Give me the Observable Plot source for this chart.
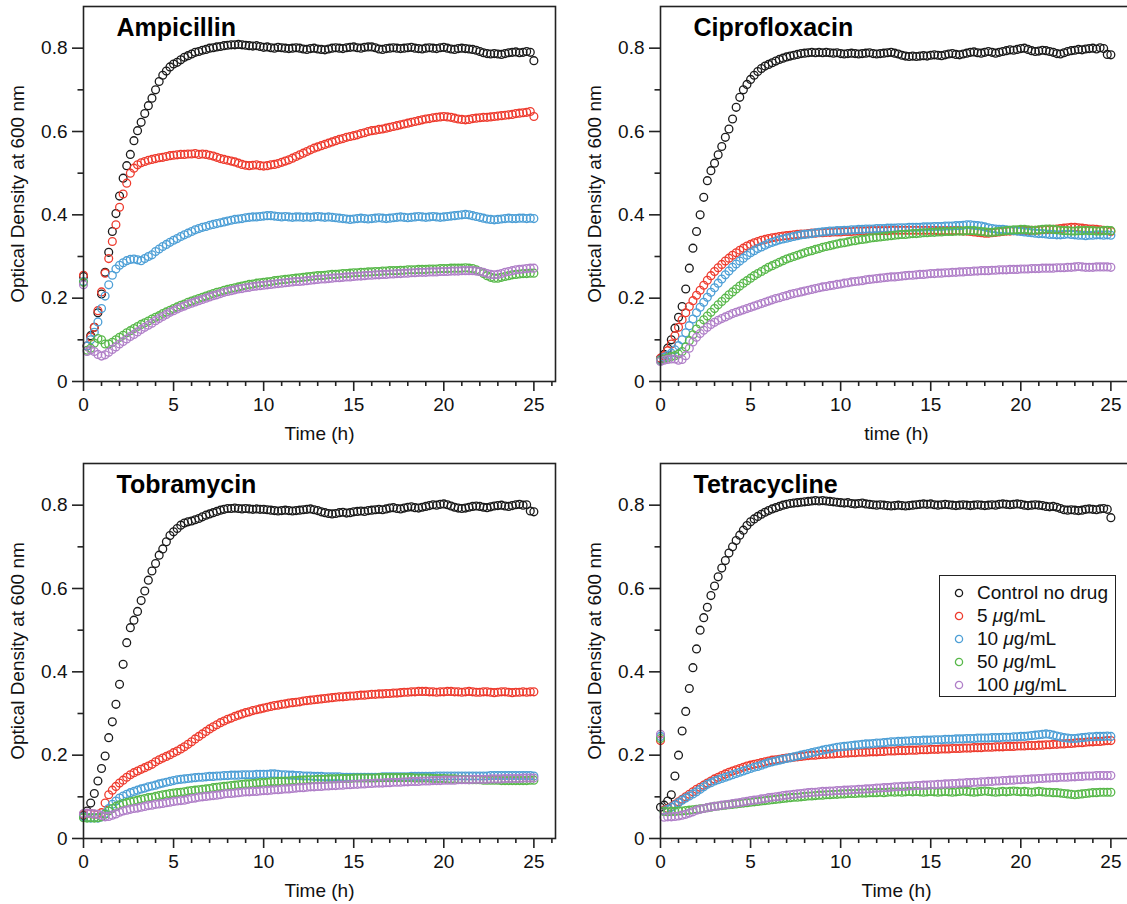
<!DOCTYPE html>
<html>
<head>
<meta charset="utf-8">
<script src="https://cdn.jsdelivr.net/npm/d3@7"></script>
<script src="https://cdn.jsdelivr.net/npm/@observablehq/plot@0.6"></script>
<style>
  html, body { margin: 0; padding: 0; background: #fff; }
  #root { position: relative; width: 1127px; height: 904px; overflow: hidden; background: #fff;
          font-family: "Liberation Sans", Arial, Helvetica, sans-serif; }
  .panel { position: absolute; width: 560px; height: 451px; }
  .panel svg { max-width: none !important; width: 560px; height: 451px; }
  #legend { position: absolute; left: 939px; top: 575px; width: 177px; height: 122px; box-sizing: border-box;
            border: 1.5px solid #222; background: #fff; font-size: 19px; color: #111; }
  #legend .row { position: absolute; left: 0; height: 22px; line-height: 22px; white-space: nowrap; }
  #legend svg { position: absolute; left: 13px; top: 5px; }
  #legend span { position: absolute; left: 37px; top: 0; }
</style>
</head>
<body>
<div id="root"></div>
<script>
const time = [
0,0.2,0.4,0.6,0.8,1,1.2,1.4,1.6,1.8,
2,2.2,2.4,2.6,2.8,3,3.2,3.4,3.6,3.8,
4,4.2,4.4,4.6,4.8,5,5.2,5.4,5.6,5.8,
6,6.2,6.4,6.6,6.8,7,7.2,7.4,7.6,7.8,
8,8.2,8.4,8.6,8.8,9,9.2,9.4,9.6,9.8,
10,10.2,10.4,10.6,10.8,11,11.2,11.4,11.6,11.8,
12,12.2,12.4,12.6,12.8,13,13.2,13.4,13.6,13.8,
14,14.2,14.4,14.6,14.8,15,15.2,15.4,15.6,15.8,
16,16.2,16.4,16.6,16.8,17,17.2,17.4,17.6,17.8,
18,18.2,18.4,18.6,18.8,19,19.2,19.4,19.6,19.8,
20,20.2,20.4,20.6,20.8,21,21.2,21.4,21.6,21.8,
22,22.2,22.4,22.6,22.8,23,23.2,23.4,23.6,23.8,
24,24.2,24.4,24.6,24.8,25];

const seriesNames = ["Control no drug", "5 μg/mL", "10 μg/mL", "50 μg/mL", "100 μg/mL"];
const seriesColors = ["#1a1a1a", "#ee3b2e", "#4d9fd6", "#58b84a", "#b07fc8"];

const xMajor = [0, 5, 10, 15, 20, 25];
const xMinor = [1,2,3,4,6,7,8,9,11,12,13,14,16,17,18,19,21,22,23,24,26];
const yMajor = [0, 0.2, 0.4, 0.6, 0.8];
const yMajorLabels = ["0", "0.2", "0.4", "0.6", "0.8"];
const yMinor = [0.1, 0.3, 0.5, 0.7];

// ---------- Ampicillin ----------
const ampCtrl = [
0.252,0.085,0.110,0.130,0.165,0.210,0.262,0.310,0.360,0.403,
0.445,0.488,0.518,0.545,0.578,0.602,0.622,0.643,0.662,0.680,
0.700,0.720,0.735,0.745,0.755,0.762,0.766,0.772,0.778,0.782,
0.786,0.790,0.792,0.795,0.797,0.800,0.801,0.803,0.804,0.806,
0.807,0.808,0.808,0.809,0.808,0.807,0.806,0.805,0.806,0.804,
0.802,0.803,0.801,0.800,0.802,0.801,0.800,0.799,0.800,0.801,
0.800,0.798,0.797,0.799,0.800,0.798,0.797,0.796,0.798,0.800,
0.801,0.800,0.799,0.801,0.802,0.803,0.801,0.800,0.802,0.803,
0.803,0.801,0.798,0.797,0.799,0.800,0.801,0.800,0.799,0.800,
0.801,0.802,0.800,0.799,0.798,0.800,0.801,0.800,0.799,0.801,
0.802,0.800,0.798,0.797,0.799,0.800,0.799,0.798,0.797,0.795,
0.792,0.789,0.787,0.786,0.787,0.786,0.785,0.787,0.789,0.790,
0.791,0.789,0.790,0.792,0.790,0.770];
const amp5 = [
0.255,0.085,0.107,0.130,0.170,0.215,0.260,0.295,0.336,0.376,
0.418,0.450,0.476,0.500,0.512,0.520,0.525,0.528,0.531,0.533,
0.535,0.537,0.538,0.540,0.542,0.543,0.544,0.545,0.545,0.546,
0.546,0.547,0.545,0.546,0.545,0.543,0.541,0.538,0.535,0.533,
0.531,0.529,0.527,0.524,0.521,0.519,0.518,0.519,0.520,0.518,
0.517,0.518,0.520,0.521,0.523,0.526,0.529,0.532,0.536,0.540,
0.544,0.548,0.552,0.556,0.560,0.563,0.566,0.569,0.572,0.575,
0.578,0.581,0.583,0.586,0.588,0.590,0.592,0.595,0.597,0.600,
0.602,0.603,0.605,0.606,0.608,0.610,0.612,0.614,0.616,0.618,
0.620,0.622,0.624,0.626,0.628,0.630,0.631,0.633,0.634,0.635,
0.636,0.635,0.634,0.632,0.630,0.629,0.628,0.629,0.631,0.632,
0.633,0.634,0.634,0.635,0.636,0.637,0.638,0.639,0.640,0.641,
0.643,0.644,0.645,0.646,0.648,0.636];
const amp10 = [
0.240,0.085,0.100,0.118,0.143,0.175,0.205,0.232,0.255,0.270,
0.279,0.285,0.290,0.293,0.294,0.292,0.290,0.295,0.300,0.304,
0.312,0.318,0.324,0.329,0.334,0.339,0.343,0.348,0.352,0.356,
0.360,0.364,0.367,0.370,0.372,0.375,0.377,0.379,0.381,0.383,
0.385,0.387,0.389,0.390,0.391,0.393,0.394,0.395,0.395,0.396,
0.397,0.398,0.398,0.397,0.396,0.395,0.396,0.395,0.394,0.395,
0.395,0.394,0.395,0.394,0.395,0.396,0.395,0.394,0.395,0.394,
0.393,0.392,0.391,0.390,0.389,0.390,0.391,0.392,0.391,0.390,
0.391,0.392,0.393,0.392,0.391,0.392,0.393,0.394,0.395,0.394,
0.393,0.394,0.395,0.396,0.395,0.394,0.395,0.396,0.395,0.394,
0.395,0.396,0.397,0.398,0.399,0.400,0.401,0.400,0.398,0.396,
0.394,0.392,0.390,0.389,0.388,0.389,0.390,0.391,0.392,0.391,
0.391,0.392,0.392,0.391,0.392,0.391];
const amp50 = [
0.238,0.075,0.080,0.092,0.103,0.100,0.090,0.090,0.094,0.100,
0.106,0.111,0.117,0.122,0.127,0.132,0.137,0.141,0.145,0.150,
0.154,0.158,0.163,0.167,0.171,0.175,0.179,0.183,0.186,0.190,
0.193,0.196,0.199,0.202,0.205,0.208,0.211,0.214,0.216,0.219,
0.221,0.223,0.225,0.227,0.229,0.231,0.233,0.234,0.236,0.237,
0.238,0.239,0.240,0.242,0.243,0.244,0.245,0.246,0.247,0.248,
0.249,0.250,0.251,0.252,0.253,0.254,0.254,0.255,0.256,0.257,
0.257,0.258,0.259,0.259,0.260,0.261,0.261,0.262,0.262,0.263,
0.263,0.264,0.264,0.265,0.265,0.266,0.266,0.266,0.267,0.267,
0.268,0.268,0.268,0.269,0.269,0.269,0.270,0.270,0.270,0.271,
0.271,0.271,0.272,0.272,0.272,0.272,0.273,0.272,0.271,0.268,
0.264,0.259,0.254,0.250,0.248,0.248,0.250,0.252,0.254,0.256,
0.257,0.258,0.259,0.259,0.260,0.260];
const amp100 = [
0.232,0.072,0.076,0.072,0.065,0.061,0.064,0.070,0.077,0.083,
0.090,0.096,0.102,0.108,0.113,0.119,0.125,0.130,0.135,0.140,
0.146,0.151,0.156,0.161,0.166,0.170,0.174,0.178,0.181,0.185,
0.188,0.191,0.194,0.197,0.200,0.203,0.206,0.208,0.211,0.214,
0.216,0.218,0.220,0.222,0.223,0.225,0.226,0.228,0.229,0.230,
0.231,0.232,0.233,0.234,0.235,0.236,0.237,0.238,0.239,0.240,
0.240,0.241,0.242,0.243,0.244,0.245,0.246,0.246,0.247,0.248,
0.249,0.249,0.250,0.251,0.251,0.252,0.253,0.253,0.254,0.255,
0.255,0.256,0.256,0.257,0.257,0.258,0.258,0.259,0.259,0.260,
0.260,0.261,0.261,0.262,0.262,0.262,0.263,0.263,0.263,0.264,
0.264,0.264,0.265,0.265,0.265,0.266,0.266,0.266,0.266,0.265,
0.264,0.262,0.259,0.257,0.256,0.257,0.259,0.262,0.264,0.266,
0.268,0.269,0.270,0.271,0.272,0.272];

// ---------- Ciprofloxacin ----------
const cipCtrl = [
0.055,0.065,0.080,0.100,0.128,0.154,0.180,0.222,0.272,0.320,
0.360,0.400,0.442,0.482,0.506,0.524,0.544,0.564,0.586,0.606,
0.630,0.658,0.682,0.700,0.713,0.725,0.735,0.744,0.751,0.757,
0.761,0.765,0.769,0.773,0.776,0.779,0.781,0.783,0.785,0.787,
0.788,0.789,0.790,0.789,0.790,0.789,0.790,0.789,0.788,0.789,
0.787,0.786,0.787,0.788,0.787,0.786,0.787,0.788,0.789,0.787,
0.786,0.787,0.788,0.789,0.790,0.788,0.786,0.783,0.781,0.780,
0.781,0.780,0.781,0.782,0.781,0.783,0.784,0.783,0.782,0.784,
0.786,0.787,0.785,0.784,0.786,0.788,0.790,0.791,0.789,0.788,
0.790,0.792,0.790,0.788,0.790,0.792,0.794,0.796,0.795,0.797,
0.799,0.800,0.797,0.794,0.792,0.793,0.795,0.794,0.792,0.790,
0.787,0.786,0.789,0.792,0.794,0.795,0.797,0.796,0.798,0.799,
0.800,0.798,0.801,0.799,0.785,0.784];
const cip5 = [
0.056,0.062,0.074,0.090,0.110,0.130,0.148,0.165,0.180,0.194,
0.207,0.219,0.231,0.243,0.254,0.264,0.273,0.281,0.289,0.296,
0.303,0.309,0.315,0.320,0.325,0.329,0.333,0.336,0.339,0.341,
0.343,0.345,0.346,0.348,0.349,0.350,0.351,0.352,0.353,0.354,
0.354,0.355,0.356,0.356,0.357,0.357,0.358,0.358,0.359,0.359,
0.359,0.360,0.360,0.360,0.361,0.361,0.361,0.361,0.362,0.362,
0.362,0.362,0.362,0.362,0.363,0.363,0.363,0.363,0.363,0.363,
0.363,0.363,0.363,0.363,0.363,0.363,0.363,0.362,0.362,0.362,
0.362,0.362,0.362,0.362,0.361,0.361,0.360,0.359,0.358,0.357,
0.356,0.356,0.357,0.358,0.359,0.360,0.361,0.361,0.362,0.362,
0.362,0.362,0.362,0.363,0.363,0.363,0.364,0.364,0.365,0.365,
0.366,0.367,0.368,0.369,0.370,0.370,0.369,0.368,0.367,0.366,
0.366,0.365,0.364,0.363,0.362,0.360];
const cip10 = [
0.052,0.058,0.063,0.068,0.076,0.086,0.100,0.117,0.134,0.150,
0.165,0.178,0.190,0.202,0.214,0.225,0.236,0.246,0.256,0.265,
0.274,0.282,0.289,0.296,0.303,0.309,0.314,0.319,0.323,0.327,
0.331,0.334,0.337,0.340,0.342,0.344,0.346,0.348,0.350,0.352,
0.353,0.354,0.355,0.357,0.358,0.359,0.360,0.361,0.361,0.362,
0.362,0.363,0.363,0.364,0.364,0.365,0.365,0.366,0.366,0.366,
0.367,0.367,0.367,0.368,0.368,0.368,0.369,0.369,0.369,0.370,
0.370,0.370,0.370,0.371,0.371,0.371,0.372,0.372,0.372,0.373,
0.373,0.373,0.374,0.374,0.375,0.376,0.376,0.375,0.374,0.373,
0.371,0.369,0.367,0.366,0.365,0.365,0.364,0.363,0.362,0.361,
0.360,0.359,0.358,0.357,0.356,0.355,0.355,0.354,0.353,0.353,
0.352,0.352,0.353,0.354,0.353,0.352,0.351,0.351,0.350,0.351,
0.351,0.352,0.352,0.351,0.352,0.351];
const cip50 = [
0.050,0.054,0.057,0.060,0.062,0.066,0.072,0.083,0.098,0.112,
0.126,0.138,0.148,0.157,0.166,0.175,0.184,0.192,0.200,0.208,
0.215,0.222,0.229,0.236,0.242,0.248,0.254,0.259,0.264,0.269,
0.274,0.278,0.282,0.286,0.290,0.294,0.297,0.300,0.303,0.306,
0.309,0.312,0.314,0.317,0.319,0.322,0.324,0.326,0.328,0.330,
0.332,0.333,0.335,0.337,0.338,0.340,0.341,0.342,0.344,0.345,
0.346,0.347,0.348,0.349,0.350,0.351,0.352,0.353,0.353,0.354,
0.355,0.355,0.356,0.357,0.357,0.358,0.358,0.359,0.359,0.360,
0.360,0.360,0.361,0.361,0.361,0.362,0.362,0.362,0.361,0.360,
0.359,0.358,0.358,0.359,0.360,0.361,0.362,0.363,0.364,0.364,
0.365,0.365,0.364,0.363,0.363,0.364,0.365,0.366,0.366,0.365,
0.364,0.363,0.362,0.362,0.361,0.361,0.362,0.362,0.363,0.362,
0.362,0.361,0.361,0.362,0.363,0.362];
const cip100 = [
0.048,0.051,0.053,0.054,0.054,0.051,0.053,0.062,0.080,0.095,
0.106,0.115,0.123,0.130,0.137,0.142,0.147,0.151,0.155,0.159,
0.163,0.166,0.169,0.172,0.175,0.178,0.181,0.184,0.187,0.190,
0.193,0.196,0.199,0.201,0.204,0.206,0.209,0.211,0.213,0.215,
0.217,0.219,0.221,0.223,0.225,0.227,0.228,0.230,0.231,0.233,
0.234,0.236,0.237,0.239,0.240,0.241,0.242,0.244,0.245,0.246,
0.247,0.248,0.249,0.250,0.251,0.251,0.252,0.253,0.254,0.255,
0.255,0.256,0.257,0.257,0.258,0.259,0.259,0.260,0.260,0.261,
0.261,0.262,0.262,0.263,0.263,0.264,0.264,0.265,0.265,0.266,
0.266,0.266,0.267,0.267,0.268,0.268,0.268,0.269,0.269,0.269,
0.270,0.270,0.270,0.271,0.271,0.271,0.272,0.272,0.272,0.272,
0.273,0.273,0.273,0.274,0.274,0.275,0.276,0.275,0.274,0.274,
0.274,0.275,0.275,0.275,0.275,0.274];

// ---------- Tobramycin ----------
const tobCtrl = [
0.055,0.066,0.085,0.108,0.138,0.168,0.198,0.242,0.280,0.322,
0.370,0.418,0.470,0.506,0.524,0.545,0.571,0.594,0.620,0.642,
0.660,0.680,0.695,0.712,0.727,0.736,0.744,0.752,0.757,0.760,
0.762,0.765,0.768,0.772,0.776,0.779,0.782,0.785,0.788,0.790,
0.792,0.792,0.793,0.792,0.791,0.792,0.791,0.790,0.791,0.790,
0.790,0.789,0.788,0.787,0.786,0.787,0.788,0.787,0.786,0.787,
0.788,0.789,0.790,0.791,0.789,0.787,0.784,0.782,0.780,0.779,
0.780,0.782,0.783,0.781,0.782,0.784,0.785,0.786,0.785,0.787,
0.788,0.789,0.790,0.789,0.791,0.793,0.794,0.792,0.791,0.793,
0.795,0.796,0.794,0.793,0.795,0.797,0.799,0.801,0.800,0.802,
0.803,0.801,0.798,0.795,0.793,0.792,0.793,0.795,0.797,0.798,
0.797,0.795,0.794,0.796,0.798,0.799,0.800,0.798,0.797,0.799,
0.801,0.802,0.800,0.801,0.786,0.784];
const tob5 = [
0.058,0.060,0.060,0.058,0.058,0.062,0.085,0.105,0.116,0.125,
0.133,0.140,0.147,0.153,0.158,0.162,0.166,0.170,0.174,0.178,
0.184,0.189,0.193,0.197,0.201,0.206,0.210,0.215,0.220,0.226,
0.232,0.239,0.245,0.251,0.257,0.263,0.268,0.273,0.278,0.282,
0.286,0.289,0.293,0.296,0.299,0.302,0.304,0.307,0.309,0.311,
0.313,0.315,0.317,0.319,0.320,0.322,0.323,0.325,0.326,0.327,
0.328,0.330,0.331,0.332,0.333,0.334,0.335,0.336,0.337,0.338,
0.339,0.340,0.340,0.341,0.342,0.342,0.343,0.344,0.344,0.345,
0.346,0.346,0.347,0.347,0.348,0.348,0.349,0.349,0.350,0.351,
0.351,0.352,0.352,0.353,0.353,0.353,0.352,0.352,0.351,0.352,
0.352,0.353,0.353,0.352,0.352,0.351,0.352,0.353,0.352,0.351,
0.351,0.352,0.352,0.351,0.350,0.351,0.352,0.352,0.351,0.350,
0.351,0.351,0.352,0.351,0.352,0.352];
const tob10 = [
0.052,0.050,0.049,0.050,0.049,0.052,0.060,0.072,0.082,0.090,
0.097,0.102,0.106,0.110,0.113,0.116,0.119,0.121,0.124,0.126,
0.128,0.131,0.133,0.135,0.137,0.139,0.141,0.142,0.143,0.144,
0.145,0.146,0.147,0.147,0.148,0.149,0.149,0.150,0.150,0.151,
0.151,0.152,0.152,0.152,0.153,0.153,0.153,0.153,0.154,0.154,
0.154,0.154,0.155,0.155,0.154,0.153,0.153,0.152,0.152,0.151,
0.151,0.150,0.150,0.150,0.149,0.149,0.149,0.148,0.148,0.148,
0.148,0.148,0.147,0.147,0.147,0.147,0.147,0.147,0.147,0.147,
0.147,0.147,0.147,0.148,0.148,0.148,0.148,0.148,0.148,0.148,
0.148,0.149,0.149,0.149,0.149,0.149,0.149,0.149,0.150,0.150,
0.150,0.150,0.150,0.150,0.150,0.150,0.150,0.150,0.150,0.150,
0.150,0.150,0.150,0.151,0.151,0.151,0.151,0.151,0.151,0.151,
0.151,0.151,0.151,0.151,0.151,0.150];
const tob50 = [
0.050,0.049,0.050,0.049,0.050,0.052,0.058,0.066,0.072,0.077,
0.081,0.084,0.086,0.088,0.090,0.092,0.094,0.096,0.098,0.099,
0.101,0.103,0.105,0.106,0.108,0.109,0.110,0.111,0.112,0.114,
0.115,0.116,0.117,0.118,0.119,0.120,0.122,0.123,0.124,0.125,
0.126,0.127,0.128,0.129,0.130,0.131,0.131,0.132,0.133,0.134,
0.134,0.135,0.136,0.136,0.137,0.137,0.138,0.138,0.139,0.139,
0.140,0.140,0.141,0.141,0.141,0.142,0.142,0.142,0.143,0.143,
0.143,0.144,0.144,0.144,0.144,0.145,0.145,0.145,0.145,0.145,
0.145,0.145,0.146,0.146,0.146,0.146,0.146,0.146,0.146,0.146,
0.146,0.146,0.145,0.145,0.145,0.145,0.145,0.144,0.144,0.144,
0.144,0.143,0.143,0.143,0.142,0.142,0.142,0.141,0.141,0.141,
0.141,0.140,0.140,0.140,0.140,0.140,0.139,0.139,0.139,0.139,
0.139,0.139,0.139,0.139,0.140,0.140];
const tob100 = [
0.060,0.061,0.060,0.059,0.058,0.055,0.052,0.053,0.056,0.059,
0.063,0.066,0.068,0.070,0.072,0.073,0.075,0.077,0.079,0.080,
0.082,0.083,0.084,0.086,0.087,0.089,0.090,0.091,0.092,0.094,
0.096,0.097,0.099,0.100,0.101,0.102,0.103,0.104,0.105,0.107,
0.108,0.108,0.109,0.110,0.111,0.112,0.112,0.113,0.113,0.114,
0.115,0.115,0.116,0.117,0.117,0.118,0.119,0.119,0.120,0.121,
0.122,0.122,0.123,0.124,0.124,0.125,0.125,0.126,0.126,0.127,
0.127,0.128,0.128,0.129,0.129,0.130,0.130,0.131,0.131,0.132,
0.132,0.133,0.133,0.133,0.134,0.134,0.135,0.135,0.135,0.136,
0.136,0.137,0.137,0.137,0.138,0.138,0.138,0.139,0.139,0.139,
0.140,0.140,0.140,0.140,0.141,0.141,0.141,0.141,0.142,0.142,
0.142,0.142,0.142,0.143,0.143,0.143,0.143,0.144,0.144,0.144,
0.144,0.144,0.145,0.145,0.145,0.145];

// ---------- Tetracycline ----------
const tetCtrl = [
0.075,0.080,0.090,0.105,0.150,0.200,0.258,0.305,0.360,0.410,
0.455,0.500,0.530,0.555,0.583,0.606,0.628,0.649,0.667,0.685,
0.700,0.715,0.728,0.740,0.751,0.760,0.767,0.773,0.778,0.783,
0.787,0.791,0.794,0.797,0.800,0.802,0.804,0.805,0.806,0.807,
0.808,0.809,0.810,0.811,0.810,0.811,0.810,0.809,0.808,0.807,
0.806,0.805,0.806,0.804,0.803,0.804,0.805,0.803,0.802,0.801,
0.800,0.801,0.800,0.799,0.798,0.799,0.800,0.799,0.798,0.799,
0.800,0.801,0.802,0.803,0.802,0.803,0.801,0.800,0.801,0.802,
0.801,0.800,0.799,0.800,0.801,0.800,0.799,0.800,0.801,0.800,
0.799,0.800,0.801,0.800,0.802,0.803,0.802,0.801,0.802,0.803,
0.802,0.800,0.799,0.800,0.801,0.800,0.799,0.797,0.796,0.797,
0.795,0.792,0.789,0.788,0.789,0.788,0.787,0.788,0.790,0.791,
0.790,0.789,0.791,0.792,0.790,0.770];
const tet5 = [
0.235,0.068,0.072,0.076,0.082,0.088,0.094,0.100,0.106,0.112,
0.118,0.123,0.128,0.133,0.138,0.143,0.147,0.151,0.155,0.159,
0.162,0.165,0.168,0.171,0.174,0.176,0.178,0.180,0.182,0.184,
0.186,0.188,0.189,0.190,0.192,0.193,0.194,0.195,0.196,0.197,
0.198,0.199,0.200,0.200,0.201,0.202,0.202,0.203,0.203,0.204,
0.204,0.205,0.205,0.206,0.206,0.207,0.207,0.207,0.208,0.208,
0.208,0.209,0.209,0.210,0.210,0.210,0.211,0.211,0.211,0.212,
0.212,0.212,0.213,0.213,0.213,0.214,0.214,0.214,0.215,0.215,
0.215,0.216,0.216,0.216,0.217,0.217,0.217,0.218,0.218,0.218,
0.219,0.219,0.219,0.220,0.220,0.220,0.221,0.221,0.221,0.222,
0.222,0.222,0.223,0.223,0.223,0.224,0.224,0.225,0.225,0.226,
0.226,0.227,0.227,0.228,0.228,0.229,0.230,0.230,0.231,0.232,
0.232,0.233,0.233,0.234,0.235,0.235];
const tet10 = [
0.245,0.066,0.070,0.075,0.080,0.086,0.092,0.097,0.102,0.107,
0.112,0.118,0.124,0.130,0.134,0.138,0.141,0.144,0.147,0.150,
0.153,0.156,0.159,0.162,0.165,0.168,0.171,0.173,0.176,0.179,
0.182,0.184,0.186,0.188,0.190,0.192,0.194,0.196,0.198,0.200,
0.202,0.204,0.206,0.208,0.210,0.212,0.214,0.215,0.217,0.219,
0.220,0.221,0.222,0.223,0.224,0.225,0.226,0.227,0.227,0.228,
0.229,0.229,0.230,0.231,0.232,0.232,0.233,0.233,0.234,0.234,
0.235,0.235,0.235,0.236,0.236,0.236,0.237,0.237,0.237,0.238,
0.238,0.238,0.239,0.239,0.239,0.240,0.240,0.240,0.241,0.241,
0.241,0.241,0.242,0.242,0.242,0.243,0.243,0.243,0.244,0.244,
0.245,0.245,0.246,0.247,0.248,0.249,0.250,0.251,0.250,0.248,
0.246,0.244,0.242,0.241,0.240,0.240,0.241,0.242,0.243,0.244,
0.244,0.245,0.245,0.245,0.246,0.245];
const tet50 = [
0.240,0.065,0.064,0.065,0.065,0.066,0.066,0.067,0.068,0.069,
0.070,0.071,0.072,0.074,0.075,0.077,0.078,0.079,0.080,0.081,
0.082,0.083,0.084,0.085,0.086,0.087,0.088,0.089,0.090,0.091,
0.092,0.093,0.094,0.095,0.096,0.097,0.098,0.099,0.099,0.100,
0.101,0.102,0.102,0.103,0.104,0.104,0.105,0.105,0.106,0.106,
0.107,0.107,0.108,0.108,0.108,0.109,0.109,0.109,0.110,0.110,
0.110,0.111,0.110,0.111,0.112,0.111,0.112,0.111,0.112,0.113,
0.112,0.113,0.112,0.111,0.112,0.113,0.112,0.111,0.112,0.113,
0.112,0.111,0.112,0.113,0.114,0.113,0.112,0.111,0.112,0.113,
0.114,0.113,0.112,0.111,0.112,0.113,0.112,0.113,0.114,0.113,
0.112,0.113,0.112,0.111,0.112,0.113,0.112,0.111,0.111,0.110,
0.110,0.109,0.108,0.107,0.106,0.105,0.106,0.107,0.108,0.109,
0.110,0.110,0.111,0.111,0.111,0.111];
const tet100 = [
0.250,0.051,0.052,0.052,0.053,0.054,0.056,0.058,0.061,0.064,
0.068,0.070,0.072,0.074,0.076,0.077,0.078,0.080,0.081,0.082,
0.084,0.085,0.086,0.088,0.089,0.091,0.092,0.093,0.095,0.096,
0.098,0.099,0.100,0.101,0.103,0.104,0.105,0.106,0.107,0.108,
0.109,0.110,0.111,0.111,0.112,0.113,0.113,0.114,0.114,0.115,
0.115,0.116,0.116,0.117,0.117,0.118,0.118,0.119,0.119,0.120,
0.121,0.121,0.122,0.122,0.123,0.124,0.124,0.125,0.125,0.126,
0.126,0.127,0.127,0.128,0.128,0.129,0.129,0.130,0.130,0.131,
0.131,0.132,0.132,0.133,0.133,0.134,0.134,0.135,0.135,0.136,
0.136,0.137,0.137,0.138,0.138,0.139,0.139,0.140,0.140,0.141,
0.141,0.142,0.142,0.143,0.143,0.144,0.144,0.145,0.145,0.146,
0.146,0.147,0.147,0.147,0.148,0.148,0.149,0.149,0.150,0.150,
0.150,0.151,0.151,0.151,0.151,0.151];

const panels = [
  {title: "Ampicillin",    xLabel: "Time (h)", series: [ampCtrl, amp5, amp10, amp50, amp100], left: 0,   top: 0},
  {title: "Ciprofloxacin", xLabel: "time (h)", series: [cipCtrl, cip5, cip10, cip50, cip100], left: 577, top: 0},
  {title: "Tobramycin",    xLabel: "Time (h)", series: [tobCtrl, tob5, tob10, tob50, tob100], left: 0,   top: 457},
  {title: "Tetracycline",  xLabel: "Time (h)", series: [tetCtrl, tet5, tet10, tet50, tet100], left: 577, top: 457}
];

const FONT = '"Liberation Sans", Arial, Helvetica, sans-serif';
const root = document.getElementById("root");

for (const p of panels) {
  const data = [];
  p.series.forEach((vals, k) => vals.forEach((v, i) => data.push({t: time[i], v, s: seriesNames[k]})));
  const chart = Plot.plot({
    width: 560, height: 451,
    marginLeft: 83, marginRight: 5, marginTop: 6, marginBottom: 70,
    x: {domain: [0, 26.2], axis: null},
    y: {domain: [0, 0.9], axis: null},
    color: {domain: seriesNames, range: seriesColors},
    style: {fontFamily: FONT, fontSize: "19px", color: "#111", background: "transparent", overflow: "visible", maxWidth: "none"},
    marks: [
      Plot.dot(data, {x: "t", y: "v", stroke: "s", r: 3.9, strokeWidth: 1.3, fill: "none"}),
      Plot.frame({stroke: "#222", strokeWidth: 1.6}),
      Plot.axisY({ticks: yMajor, tickSize: 11, tickPadding: 5, strokeWidth: 1.6, stroke: "#222",
                  tickFormat: d => yMajorLabels[yMajor.indexOf(d)], label: null, fontSize: 19}),
      Plot.axisY({ticks: yMinor, tickSize: 5.5, strokeWidth: 1.6, stroke: "#222", tickFormat: () => "", label: null}),
      Plot.axisX({ticks: xMajor, tickSize: 10, tickPadding: 6, strokeWidth: 1.6, stroke: "#222",
                  tickFormat: d => String(d), label: null, fontSize: 19}),
      Plot.axisX({ticks: xMinor, tickSize: 5, strokeWidth: 1.6, stroke: "#222", tickFormat: () => "", label: null}),
      Plot.text([p.title], {frameAnchor: "top-left", dx: 33, dy: 21.5, textAnchor: "start", lineAnchor: "middle",
                            fontWeight: "bold", fontSize: 25, fill: "#000"}),
      Plot.text(["Optical Density at 600 nm"], {frameAnchor: "left", dx: -66, rotate: -90, textAnchor: "middle",
                            lineAnchor: "middle", fontSize: 19, fill: "#111"}),
      Plot.text([p.xLabel], {frameAnchor: "bottom", dy: 52, textAnchor: "middle", lineAnchor: "middle", fontSize: 19, fill: "#111"})
    ]
  });
  const holder = document.createElement("div");
  holder.className = "panel";
  holder.style.left = p.left + "px";
  holder.style.top = p.top + "px";
  holder.appendChild(chart);
  root.appendChild(holder);
}

// Legend (in the Tetracycline panel)
const legend = document.createElement("div");
legend.id = "legend";
seriesNames.forEach((name, k) => {
  const row = document.createElement("div");
  row.className = "row";
  row.style.top = (6 + 23 * k) + "px";
  row.style.width = "172px";
  row.innerHTML = `<svg width="12" height="12"><circle cx="6" cy="6" r="3.6" fill="none" stroke="${seriesColors[k]}" stroke-width="1.3"/></svg>` +
    `<span>${name.replace("μ", "<i>μ</i>")}</span>`;
  legend.appendChild(row);
});
root.appendChild(legend);
</script>
</body>
</html>
